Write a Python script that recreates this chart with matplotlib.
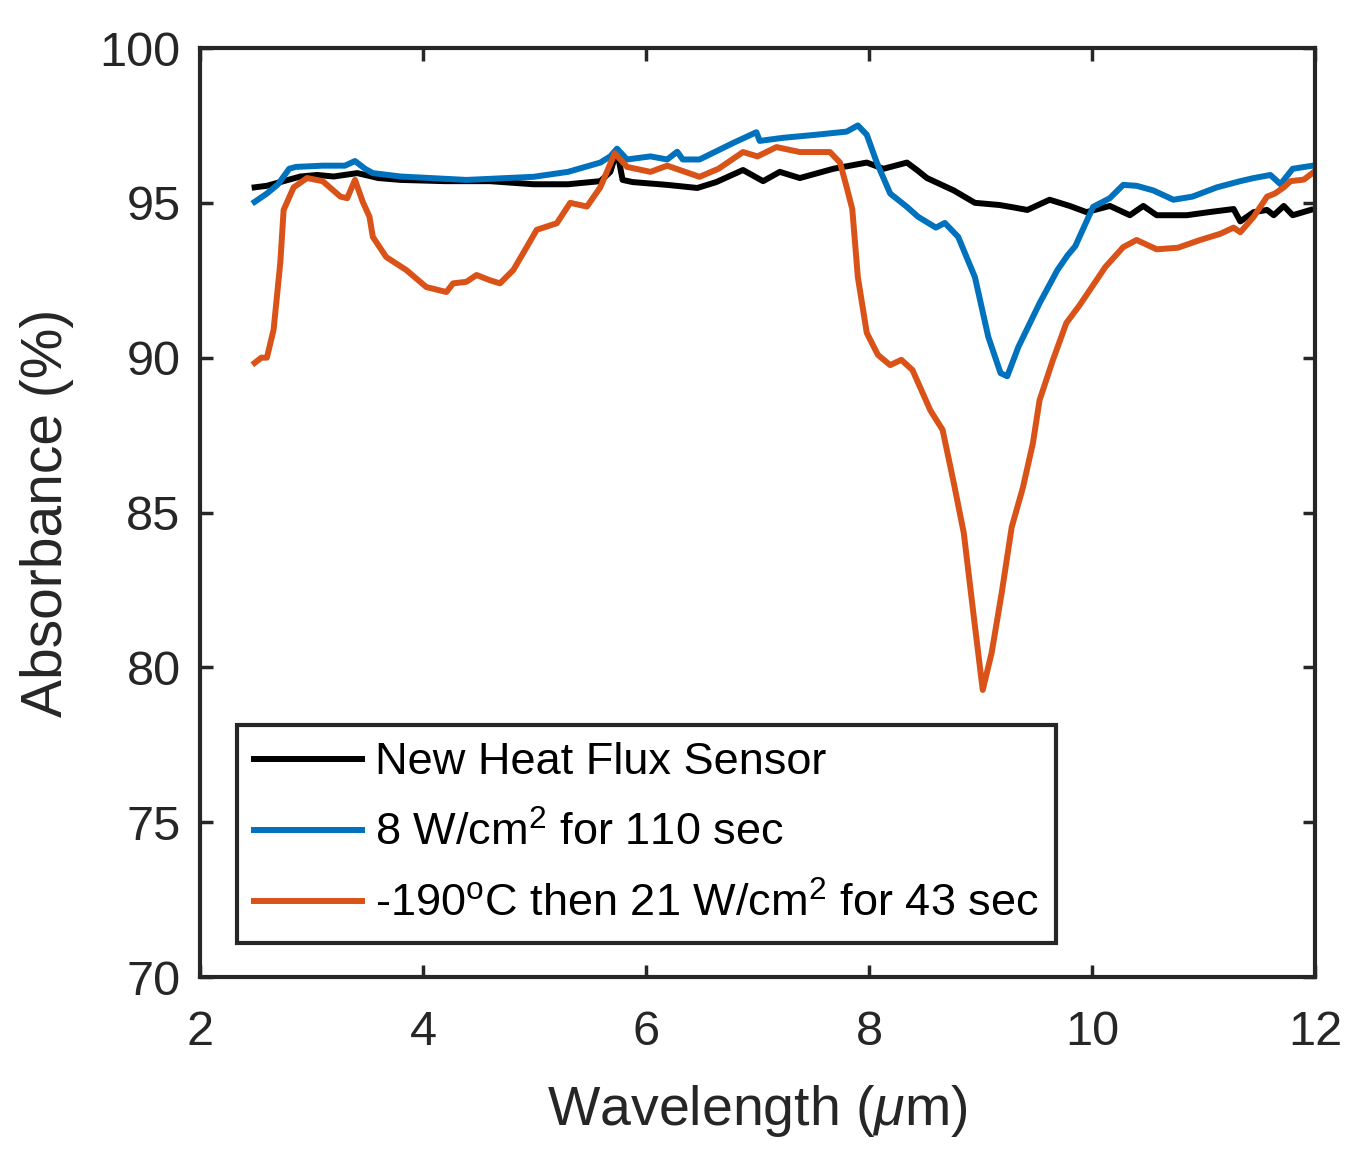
import numpy as np
import matplotlib
matplotlib.use('Agg')
import matplotlib.pyplot as plt

plt.rcParams['font.family'] = ['Liberation Sans', 'DejaVu Sans']
plt.rcParams['mathtext.fontset'] = 'custom'
plt.rcParams['mathtext.rm'] = 'Liberation Sans'
plt.rcParams['mathtext.it'] = 'Liberation Sans:italic'

# values (wavelength in um, absorbance in %)
x_new = [2.49, 2.6, 2.75, 2.9, 3.05, 3.2, 3.41, 3.6, 3.8, 4.2, 4.6, 4.99, 5.3, 5.59, 5.68,
         5.74, 5.79, 5.88, 6.19, 6.46, 6.63, 6.87, 7.05, 7.2, 7.38, 7.68, 7.98, 8.13, 8.34,
         8.43, 8.52, 8.76, 8.95, 9.17, 9.3, 9.42, 9.62, 9.8, 9.95, 10.16, 10.34, 10.46,
         10.58, 10.85, 11.05, 11.27, 11.33, 11.45, 11.57, 11.63, 11.72, 11.8, 11.96]
y_new = [95.5, 95.55, 95.7, 95.85, 95.9, 95.85, 95.96, 95.8, 95.74, 95.7, 95.7, 95.6, 95.6,
         95.7, 96.0, 96.7, 95.74, 95.67, 95.58, 95.48, 95.67, 96.06, 95.7, 96.0, 95.8, 96.1,
         96.3, 96.1, 96.3, 96.06, 95.8, 95.4, 95.0, 94.93, 94.85, 94.77, 95.1, 94.9, 94.7,
         94.9, 94.6, 94.9, 94.6, 94.6, 94.7, 94.8, 94.4, 94.7, 94.77, 94.6, 94.9, 94.6, 94.77]

x_8w = [2.49, 2.6, 2.7, 2.8, 2.86, 3.1, 3.3, 3.39, 3.48, 3.55, 3.8, 4.39, 4.99, 5.3, 5.59,
        5.68, 5.74, 5.83, 6.04, 6.19, 6.28, 6.33, 6.48, 6.78, 6.99, 7.02, 7.23, 7.53, 7.8,
        7.9, 7.98, 8.07, 8.19, 8.34, 8.44, 8.6, 8.68, 8.8, 8.95, 9.07, 9.18, 9.24, 9.34,
        9.53, 9.69, 9.78, 9.85, 10.01, 10.16, 10.28, 10.4, 10.55, 10.73, 10.9, 11.12, 11.33,
        11.45, 11.6, 11.69, 11.8, 11.98]
y_8w = [95.03, 95.3, 95.6, 96.1, 96.16, 96.2, 96.2, 96.35, 96.1, 95.96, 95.85, 95.74, 95.84,
        96.0, 96.3, 96.5, 96.75, 96.4, 96.5, 96.4, 96.65, 96.4, 96.4, 96.93, 97.28, 97.0,
        97.1, 97.2, 97.3, 97.5, 97.2, 96.3, 95.3, 94.87, 94.55, 94.2, 94.35, 93.9, 92.6,
        90.67, 89.5, 89.4, 90.35, 91.76, 92.83, 93.3, 93.6, 94.87, 95.15, 95.58, 95.55, 95.4,
        95.1, 95.2, 95.5, 95.7, 95.8, 95.9, 95.6, 96.1, 96.2]

x_cold = [2.49, 2.55, 2.6, 2.66, 2.72, 2.75, 2.84, 2.96, 3.1, 3.26, 3.32, 3.39, 3.46, 3.52,
          3.55, 3.67, 3.85, 4.03, 4.21, 4.27, 4.39, 4.48, 4.6, 4.69, 4.81, 4.93, 5.02, 5.2,
          5.32, 5.47, 5.59, 5.72, 5.83, 6.04, 6.19, 6.48, 6.65, 6.87, 7.0, 7.17, 7.38, 7.65,
          7.74, 7.8, 7.85, 7.9, 7.98, 8.08, 8.19, 8.29, 8.39, 8.55, 8.66, 8.76, 8.85, 8.94,
          9.02, 9.1, 9.19, 9.28, 9.38, 9.47, 9.53, 9.65, 9.77, 9.89, 10.12, 10.28, 10.4,
          10.58, 10.77, 10.97, 11.15, 11.27, 11.33, 11.45, 11.57, 11.64, 11.72, 11.78, 11.9,
          11.98]
y_cold = [89.83, 90.0, 90.0, 90.9, 93.06, 94.77, 95.5, 95.8, 95.7, 95.2, 95.15, 95.74, 95.03,
          94.55, 93.9, 93.25, 92.83, 92.28, 92.12, 92.4, 92.45, 92.67, 92.5, 92.4, 92.83,
          93.57, 94.13, 94.34, 95.0, 94.88, 95.5, 96.6, 96.16, 96.0, 96.2, 95.84, 96.1, 96.64,
          96.5, 96.8, 96.64, 96.64, 96.3, 95.5, 94.8, 92.6, 90.8, 90.09, 89.76, 89.93, 89.6,
          88.3, 87.67, 85.96, 84.34, 81.63, 79.27, 80.47, 82.4, 84.53, 85.8, 87.24, 88.63,
          89.93, 91.12, 91.7, 92.93, 93.57, 93.8, 93.5, 93.55, 93.8, 94.0, 94.2, 94.05, 94.55,
          95.2, 95.3, 95.5, 95.7, 95.75, 95.97]

labels = ['New Heat Flux Sensor',
          '8 W/cm$^2$ for 110 sec',
          '-190$^{\\mathrm{o}}$C then 21 W/cm$^2$ for 43 sec']
colors = ['black', '#0072BD', '#D95319']

fig = plt.figure(figsize=(13.71, 11.52), dpi=100)
ax = fig.add_axes([200 / 1371, 1 - 977 / 1152, 1115 / 1371, 929 / 1152])

ax.plot(x_new, y_new, color=colors[0], lw=4.3, label=labels[0])
ax.plot(x_8w, y_8w, color=colors[1], lw=4.3, label=labels[1])
ax.plot(x_cold, y_cold, color=colors[2], lw=4.3, label=labels[2])

ax.set_xlim(2, 12)
ax.set_ylim(70, 100)
ax.set_xticks(np.arange(2, 13, 2))
ax.set_yticks(np.arange(70, 101, 5))
ax.tick_params(direction='in', length=9, width=2.5, top=True, right=True,
               labelsize=35, colors='#262626')
ax.tick_params(axis='x', pad=24)
ax.tick_params(axis='y', pad=14)
for sp in ax.spines.values():
    sp.set_linewidth(3)
    sp.set_color('#262626')

ax.set_xlabel('Wavelength ($\\mu$m)', fontsize=40, color='#262626', labelpad=20)
ax.set_ylabel('Absorbance (%)', fontsize=41, color='#262626', labelpad=18)

leg = ax.legend(loc='lower left', bbox_to_anchor=(0.033, 0.037), fontsize=32.5,
                frameon=True, fancybox=False, handlelength=2.4, handletextpad=0.28,
                labelspacing=0.62, borderpad=0.38, borderaxespad=0)
leg.get_frame().set_edgecolor('#262626')
leg.get_frame().set_linewidth(3)
leg.get_frame().set_alpha(1)

fig.savefig('out.png', dpi=100)
